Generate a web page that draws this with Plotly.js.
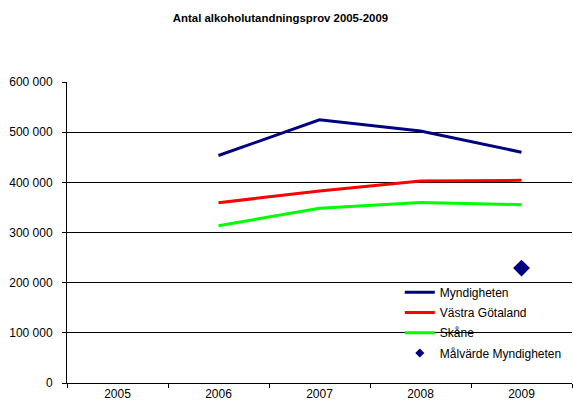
<!DOCTYPE html>
<html>
<head>
<meta charset="utf-8">
<script src="https://cdn.plot.ly/plotly-3.0.1.min.js"></script>
<style>html,body{margin:0;padding:0;background:#fff;}#chart{width:573px;height:405px;}</style>
</head>
<body>
<div id="chart"></div>
<script>
var years = ["2005", "2006", "2007", "2008", "2009"];
var seriesYears = ["2006", "2007", "2008", "2009"];
var myndigheten = [453500, 524500, 502500, 460000];
var vastraGotaland = [359500, 382500, 402500, 404000];
var skane = [313500, 348500, 360000, 355500];
var malvardeYears = ["2009"];
var malvardeMyndigheten = [229000];
var yTicks = [0, 100000, 200000, 300000, 400000, 500000, 600000];

var font = "Arial, 'Liberation Sans', sans-serif";

var traces = [
  {x: seriesYears, y: myndigheten, type: "scatter", mode: "lines", name: "Myndigheten", legendgroup: "a",
   line: {color: "#000080", width: 3}},
  {x: seriesYears, y: vastraGotaland, type: "scatter", mode: "lines", name: "Västra Götaland", legendgroup: "b",
   line: {color: "#ff0000", width: 3}},
  {x: seriesYears, y: skane, type: "scatter", mode: "lines", name: "Skåne", legendgroup: "c",
   line: {color: "#00ff00", width: 3}},
  {x: malvardeYears, y: malvardeMyndigheten, type: "scatter", mode: "markers", name: "Målvärde Myndigheten",
   marker: {symbol: "diamond", color: "#000080", size: 13}, showlegend: false, legendgroup: "d"},
  {x: [null], y: [null], type: "scatter", mode: "markers", name: "Målvärde Myndigheten", legendgroup: "d",
   marker: {symbol: "diamond", color: "#000080", size: 7}, showlegend: true}
];

var layout = {
  width: 573, height: 405,
  margin: {l: 67, r: 1, t: 82, b: 22, pad: 0},
  paper_bgcolor: "#fff", plot_bgcolor: "#fff",
  separators: ". ",
  font: {family: font, size: 12, color: "#000"},
  title: {text: "<b>Antal alkoholutandningsprov 2005-2009</b>", font: {family: font, size: 11.4, color: "#000"},
          x: 0.4895, xref: "container", xanchor: "center", y: 0.955, yref: "container", yanchor: "middle"},
  showlegend: true,
  legend: {x: 0.659, xanchor: "left", y: 0.35, yanchor: "top", bgcolor: "rgba(0,0,0,0)",
           font: {family: font, size: 12, color: "#000"}, tracegroupgap: 1.3, itemwidth: 30,
           traceorder: "grouped"},
  shapes: [{type: "rect", xref: "paper", yref: "paper", x0: 0.624, x1: 1, y0: 0.025, y1: 0.35,
            fillcolor: "#fff", line: {width: 0}, layer: "between"}],
  xaxis: {type: "category", categoryorder: "array", categoryarray: years, tickvals: years, ticktext: years,
          range: [-0.5, 4.5], showgrid: false, zeroline: false, showline: true, linecolor: "#000", linewidth: 1,
          ticks: "outside", tickson: "boundaries", ticklen: 4, tickcolor: "#000", tickfont: {size: 12},
          fixedrange: true},
  yaxis: {range: [0, 600000], tickvals: yTicks, tickformat: ",d", showgrid: true, gridcolor: "#000", gridwidth: 1,
          zeroline: false, showline: true, linecolor: "#000", linewidth: 1, ticks: "outside", ticklen: 4,
          tickcolor: "#000", tickfont: {size: 12}, ticklabelstandoff: 7, fixedrange: true}
};

Plotly.newPlot("chart", traces, layout, {displayModeBar: false, staticPlot: true});
</script>
</body>
</html>
